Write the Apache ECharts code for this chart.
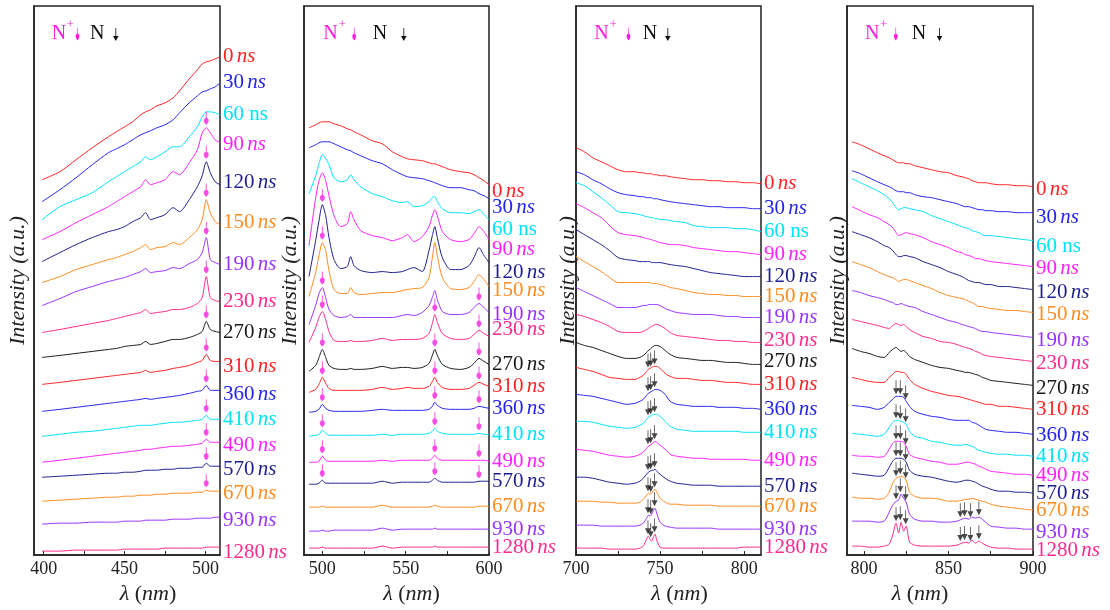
<!DOCTYPE html>
<html><head><meta charset="utf-8">
<script src="https://cdn.jsdelivr.net/npm/echarts@6/dist/echarts.min.js"></script>
<style>html,body{margin:0;padding:0;background:#fff}#c{width:1110px;height:610px}</style>
</head><body><div id="c"></div>
<script>
// ---------------- DATA ----------------
const delays = ['0','30','60','90','120','150','190','230','270','310','360','410','490','570','670','930','1280'];

// Panel 1 (390-510 nm)
const lam1 = [399,410,420,430,440,445,450,455,460,463,466,470,475,480,484,490,495,498,500.5,503,506,509];
const int1 = [
[376,384,396,408,419,424,429,434,441,444,446,450,453,458,465,477,486,492,494,495,497,499],
[354,366,378,391,403,407,411,416,421,423,425,428,431,436,443,453,460,464,465,467,469,473],
[336,349,356,363,374,379,384,389,394,399,396,399,404,409,409,419,429,439,444,444,443,441],
[316,324,333,341,349,354,359,364,369,376,371,373,376,384,381,393,406,423,428,423,416,413],
[294,303,311,318,324,326,329,334,338,343,336,338,341,348,344,356,369,380,394,383,374,371],
[273,279,286,291,296,298,301,304,308,311,306,308,309,313,311,318,326,336,356,343,334,331],
[250,257,264,269,274,276,278,281,284,287,283,284,285,288,287,292,296,303,318,296,293,291],
[223,226,229,232,235,237,239,241,243,246,242,243,244,246,246,248,252,258,279,258,255,254],
[198,200,202,204,206,207,209,210,211,214,211,212,214,216,216,218,221,224,234,226,224,223],
[171,173,175,177,179,180,181,182,183,185,183,184,185,187,188,190,193,195,201,195,194,194],
[144,146,148,150,152,153,154,155,156,157,156,157,158,159,160,162,164,165,170,165,165,165],
[119,121,123,124,126,127,128,129,130,130,130,131,132,133,133,134,135,136,140,136,136,136],
[93,95,97,99,101,102,103,104,105,106,106,107,108,109,109,110,111,112,116,113,113,113],
[78,79,80,81,82,82,83,83,84,85,85,85,86,86,87,87,88,88,92,89,89,89],
[54,55,56,57,58,58,59,59,60,60,60,61,61,62,62,62,63,63,65,64,64,64],
[31,32,32,33,33,33,34,34,34,35,35,35,35,36,36,36,37,37,37,37,38,38],
[4,4,5,5,5,5,6,6,6,6,6,6,7,7,7,7,7,7,8,8,8,8]
];

// Panel 2 (490-600 nm)
const lam2 = [492,496,498,500,502,504,507,511,515,517,519,523,530,536,542,548,551,555,560,564,566,567.5,569,572,577,583,588,591,594,597,600];
const int2 = [
[428,431,433,434,434,434,432,430,427,426,424,421,415,412,404,399,397,396,395,393,392,392,391,389,386,384,383,381,378,375,371],
[408,411,413,414,414,414,412,409,406,405,403,400,395,392,386,381,379,378,377,375,374,373,372,370,368,368,366,365,362,360,357],
[362,380,392,401,397,391,378,374,376,381,376,369,362,359,355,353,354,349,350,354,358,359,354,347,343,343,342,344,346,341,336],
[310,358,375,383,375,360,340,329,332,344,336,325,320,318,315,318,321,314,319,329,340,346,340,324,316,314,316,322,329,324,316],
[279,315,335,351,340,318,296,287,289,299,290,285,283,284,283,284,286,288,284,305,320,329,318,298,286,286,290,298,308,300,293],
[259,283,300,313,305,285,266,262,262,268,263,261,262,263,263,265,266,267,268,278,298,313,300,278,267,266,268,274,281,276,269],
[231,250,262,268,258,246,240,238,239,241,238,238,238,238,238,240,241,240,243,250,258,265,256,244,241,241,243,248,252,248,243],
[213,228,238,244,236,224,215,214,214,215,214,214,215,217,215,216,216,216,217,222,232,241,233,222,217,216,217,221,225,222,219],
[184,190,198,206,198,190,187,186,186,187,186,186,187,189,187,188,188,187,188,192,200,206,200,191,187,186,188,192,197,194,191],
[163,166,171,178,172,167,165,165,165,165,165,165,166,168,166,167,168,167,167,169,174,178,173,168,166,166,167,170,173,171,169],
[143,144,146,151,147,145,144,144,144,144,144,144,145,146,145,145,145,145,145,146,149,153,150,147,146,146,146,147,149,148,147],
[119,120,121,125,122,120,120,120,120,120,120,120,120,121,120,121,121,121,121,122,124,127,124,122,121,121,121,121,122,121,121],
[93,93,94,99,95,94,94,94,94,94,94,94,94,95,94,95,95,95,95,95,97,100,97,95,95,95,95,95,95,95,94],
[71,71,72,75,72,72,72,72,72,72,72,72,72,74,72,73,73,73,73,73,75,77,75,73,73,73,73,73,74,74,74],
[48,48,48,49,48,48,48,48,48,48,48,48,48,50,48,48,48,48,48,48,49,50,49,48,48,48,48,48,49,49,49],
[24,24,24,25,24,24,25,25,25,25,25,25,25,27,25,26,26,26,26,26,26,27,26,26,26,26,26,26,26,26,26],
[7,7,7,8,7,7,7,7,7,7,7,7,7,9,7,8,8,8,8,8,8,9,8,8,8,8,8,8,8,8,8]
];

// Panel 3 (700-810 nm)
const lam3 = [700,705,710,715,720,725,730,735,738,740,742,743,744,745,746,747,748,750,753,756,760,765,770,775,780,785,790,795,800,805,810];
const int3 = [
[408,404,398,394,390,386,384,384,383,383,382,382,382,382,381,381,381,380,380,379,378,377,376,376,375,375,374,374,373,373,372],
[384,381,376,372,367,363,361,360,359,359,358,358,358,358,357,357,357,356,355,354,353,352,351,350,349,349,348,348,348,347,347],
[373,370,364,358,351,344,343,342,341,340,339,339,338,338,338,337,337,336,336,335,334,333,330,329,328,328,328,327,327,326,324],
[352,348,343,338,330,323,321,320,319,318,317,317,316,316,315,315,314,313,312,311,311,310,308,307,306,305,304,304,303,302,301],
[326,321,316,311,305,298,296,295,294,294,294,294,294,293,293,293,293,293,292,291,290,289,287,285,283,282,281,280,279,279,279],
[299,294,289,284,278,273,273,273,273,273,273,273,273,272,272,272,272,271,270,268,267,265,263,262,261,261,260,260,259,259,259],
[268,264,260,256,252,248,248,248,249,250,250,251,251,251,251,251,251,250,247,245,243,242,241,241,241,240,239,239,238,238,238],
[241,239,236,233,229,224,223,223,223,224,226,227,228,229,230,231,231,230,227,223,220,219,218,217,216,215,215,214,214,213,213],
[213,210,208,205,202,199,197,197,198,200,203,205,206,208,209,210,210,209,205,201,198,197,196,195,195,194,193,193,192,191,191],
[188,186,184,181,178,177,176,176,178,180,184,186,187,188,189,189,189,187,182,179,177,177,176,175,175,174,173,173,172,171,171],
[161,160,159,157,155,153,151,152,154,156,160,162,163,164,165,166,166,165,161,154,151,150,149,149,149,148,148,148,147,147,146],
[134,134,133,131,129,128,127,128,130,132,136,138,139,140,141,141,141,139,134,129,126,125,124,124,124,124,124,124,123,123,123],
[106,105,104,102,100,99,98,99,101,103,107,109,110,111,113,114,113,110,106,101,99,98,97,97,96,96,96,96,96,95,95],
[78,78,77,75,73,72,71,72,74,77,81,83,84,85,85,86,84,81,77,74,72,71,70,70,70,69,69,69,69,69,69],
[54,54,54,53,53,52,52,52,53,56,60,62,61,62,65,66,63,57,53,51,51,50,50,50,50,49,49,49,49,49,49],
[30,30,30,29,29,29,29,29,30,32,37,40,39,41,45,47,42,33,29,28,27,27,27,27,27,26,26,26,26,26,26],
[7,7,7,7,6,6,6,6,7,9,16,19,16,14,18,21,15,8,7,7,7,7,7,7,7,7,7,7,8,8,8]
];

// Panel 4 (790-900 nm)
const lam4 = [793,798,803,808,812,815,817,819,820.5,822,823.5,825,827,830,835,840,845,850,855,858,860,862,864,866,868,870,872,875,880,885,890,895,900];
const int4 = [
[414,411,407,403,400,398,396,394,393,393,393,392,392,390,388,386,384,383,380,379,378,377,375,374,373,373,373,372,371,371,370,370,369],
[385,382,378,374,371,369,367,365,364,364,364,363,363,361,359,358,356,354,352,350,349,349,348,347,346,346,345,345,344,344,343,343,343],
[377,373,369,365,361,357,353,348,346,347,348,348,347,346,344,340,337,334,331,329,328,327,325,324,323,321,320,320,319,318,317,316,315],
[349,345,341,338,334,331,328,323,320,321,322,323,322,321,318,314,311,308,304,303,301,300,299,297,297,296,295,294,293,292,291,290,289],
[324,321,318,314,310,308,305,301,299,299,300,300,299,298,294,291,288,284,281,279,277,275,274,273,273,272,271,271,269,269,268,267,266],
[294,291,288,284,281,279,278,276,274,275,276,276,275,273,270,267,263,260,258,257,256,254,253,251,249,249,248,247,246,245,245,244,243],
[265,263,260,258,256,254,253,251,251,252,251,250,249,248,244,241,238,235,233,231,230,229,228,227,225,224,224,223,222,221,220,219,218],
[236,234,232,230,228,227,230,232,231,230,231,229,226,223,219,217,214,213,211,209,208,207,206,204,203,201,200,199,198,197,196,195,194],
[207,204,202,199,198,203,206,208,206,204,205,203,199,196,193,190,188,187,185,184,183,183,182,181,180,178,177,175,174,173,172,171,170],
[178,176,174,173,173,178,181,184,184,183,183,181,176,171,167,164,162,160,159,158,157,156,155,154,153,152,151,151,149,149,148,147,146],
[150,149,148,146,148,153,156,159,159,159,158,154,149,144,141,139,138,136,135,135,135,135,133,132,130,128,126,125,124,123,123,122,121],
[122,121,120,119,121,128,133,135,135,134,133,131,124,119,117,114,113,111,110,110,111,110,109,107,105,104,103,102,101,101,100,100,99],
[100,99,99,98,99,106,112,114,114,114,113,109,101,98,96,94,93,91,91,92,93,93,92,91,89,88,86,84,83,82,81,81,80],
[82,81,80,79,80,88,94,97,97,97,96,93,85,81,79,78,76,74,73,74,75,75,74,73,71,69,68,66,64,64,63,63,62],
[58,57,57,56,57,63,72,77,78,79,78,75,63,59,57,57,56,54,54,55,56,56,57,56,55,54,53,51,49,48,47,46,45],
[34,34,34,33,34,43,50,54,55,61,57,53,41,36,34,34,33,33,34,36,37,36,38,37,38,36,33,29,28,27,27,26,26],
[9,9,8,8,9,11,20,32,22,33,24,29,13,10,9,9,9,9,10,12,13,12,15,12,14,12,10,8,7,7,6,6,6]
];

// Line markers: [wavelength, first trace index, last trace index]
const ionMarks1 = [[500.5,3,14]];
const ionMarks2 = [[500,4,13],[567.5,7,13],[594,6,13]];
const neuMarks3 = [[742.8,9,16],[744.4,9,16],[746.7,9,16]];
const neuMarks4 = [[819,10,16],[821.5,10,16],[824.7,10,16],[857,15,16],[859.5,15,16],[863,15,16],[868,15,16]];

// Axis ranges and tick labels
const xRanges = [[394,509],[489,600],[700,810],[790,900]];
const xTickLabels = [[400,450,500],[500,550,600],[700,750,800],[800,850,900]];
const xMinorTicks = [[425,475],[525,575],[725,775],[825,875]];

// ---------------- STYLE / LAYOUT ----------------
const traceColors = ['#ff2222','#2424ee','#00e2fa','#ff22ff','#1e1e8e','#ff8c1e','#9a32ff','#ff2a8c','#1a1a1a',
                     '#ff2222','#2424ee','#00e2fa','#ff22ff','#1e1e8e','#ff8c1e','#9a32ff','#ff2a8c'];
const FONT = '"Liberation Serif","Times New Roman",serif';
const gridLefts = [34,304,576,847];
const gridWidths = [186,185,185,186];
const yNameGaps = [5,3,-3,-2];
const xNamePad = [[0,0,0,42],[0,0,0,30],[0,0,0,22],[0,40,0,0]];
const labelNudge = [
  [0,0,0,2,-2,-2,0,0,0,5,4,0,3,3,2,3,5],
  [7,9,10,10,10,4,2,-7,0,0,0,0,0,0,0,0,0],
  [0,0,0,0,0,0,0,-2,-3,0,0,0,0,0,0,0,0],
  [3,5,6,2,3,2,3,2,3,0,1,0,0,0,0,3,1]
];
const annot = [
  {n1:17.7, plus:32.5, ma:41, n2:56, ba:79},
  {n1:19.3, plus:34.5, ma:47.7, n2:68.7, ba:97},
  {n1:18.3, plus:33.5, ma:50, n2:66.7, ba:89},
  {n1:18, plus:33, ma:46.3, n2:64.7, ba:89.7}
];
const ION_PATH = 'M2.2 0 H2.8 V6 C4.6 7 4.6 10.5 2.5 13 C0.4 10.5 0.4 7 2.2 6 Z';
const NEU_PATH = 'M2.6 0 H3.4 V8 H6 L3 14 L0 8 H2.6 Z';
const ION_POLY = [[2.2,0],[2.8,0],[2.8,6],[3.8,6.8],[4.4,8.5],[4.2,10.3],[3.4,11.8],[2.5,13],[1.6,11.8],[0.8,10.3],[0.6,8.5],[1.2,6.8],[2.2,6]];
const NEU_POLY = [[2.4,0],[3.2,0],[3.2,8],[5.6,8],[2.8,13],[0,8],[2.4,8]];
const ION_COLOR = '#ff1ee0';

const panels = [
  {lam:lam1, ints:int1, ion:ionMarks1, neu:[]},
  {lam:lam2, ints:int2, ion:ionMarks2, neu:[]},
  {lam:lam3, ints:int3, ion:[], neu:neuMarks3},
  {lam:lam4, ints:int4, ion:[], neu:neuMarks4}
];

function nearestIdx(lam, x){let b=0;for(let i=1;i<lam.length;i++){if(Math.abs(lam[i]-x)<Math.abs(lam[b]-x))b=i;}return b;}
function markData(lam, ints, marks, gap){
  const out=[];
  marks.forEach(([x,a,b])=>{const k=nearestIdx(lam,x);for(let t=a;t<=b;t++)out.push([x, ints[t][k]+gap]);});
  return out;
}
function shiftPoly(poly, x, y){return poly.map(([a,b])=>[a+x,b+y]);}

const grids=[], xAxes=[], yAxes=[], series=[], graphics=[];
panels.forEach((p,pi)=>{
  grids.push({left:gridLefts[pi], top:6, width:gridWidths[pi], height:550, show:true, borderColor:'#222', borderWidth:1.5, backgroundColor:'transparent'});
  xAxes.push({
    gridIndex:pi, type:'value', min:xRanges[pi][0], max:xRanges[pi][1],
    axisLine:{show:true, onZero:false, lineStyle:{color:'#222', width:1.5}},
    axisTick:{show:true, inside:true, length:4, customValues:xTickLabels[pi].concat(xMinorTicks[pi]), lineStyle:{color:'#222', width:1}},
    axisLabel:{customValues:xTickLabels[pi], margin:5, color:'#222', fontFamily:FONT, fontSize:18},
    splitLine:{show:false},
    name:'{i|λ} ({i|nm})', nameLocation:'middle', nameGap:24,
    nameTextStyle:{color:'#222', fontFamily:FONT, fontSize:22, padding:xNamePad[pi],
      rich:{i:{fontStyle:'italic', fontFamily:FONT, fontSize:22, color:'#222'}}}
  });
  yAxes.push({
    gridIndex:pi, type:'value', min:0, max:550,
    axisLine:{show:true, lineStyle:{color:'#222', width:1.5}},
    axisTick:{show:false}, axisLabel:{show:false}, splitLine:{show:false},
    name:'Intensity (a.u.)', nameLocation:'middle', nameGap:yNameGaps[pi],
    nameTextStyle:{color:'#222', fontFamily:FONT, fontSize:22, fontStyle:'italic'}
  });
  p.ints.forEach((vals,ti)=>{
    const col = traceColors[ti];
    const d = delays[ti];
    series.push({
      type:'line', name:d+' ns #'+pi, xAxisIndex:pi, yAxisIndex:pi,
      data:p.lam.map((x,i)=>[x, vals[i]]),
      showSymbol:false, smooth:0.25,
      lineStyle:{color:col, width:1}, itemStyle:{color:col},
      silent:true,
      endLabel:{show:true, distance:3, offset:[0, labelNudge[pi][ti]], color:col,
        formatter: ()=> d==='60' ? `{n|${d} ns}` : `{n|${d}} {u|ns}`,
        rich:{n:{fontFamily:FONT, fontSize:21, color:col}, u:{fontFamily:FONT, fontSize:21, fontStyle:'italic', color:col}}}
    });
  });
  if(p.ion.length){
    series.push({type:'scatter', xAxisIndex:pi, yAxisIndex:pi, z:5, silent:true,
      symbol:'path://'+ION_PATH, symbolSize:[5,13], symbolOffset:[0,'-50%'],
      itemStyle:{color:ION_COLOR}, data:markData(p.lam,p.ints,p.ion,3)});
  }
  if(p.neu.length){
    series.push({type:'scatter', xAxisIndex:pi, yAxisIndex:pi, z:5, silent:true,
      symbol:'path://'+NEU_PATH, symbolSize:[6,14], symbolOffset:[0,'-50%'],
      itemStyle:{color:'#1a1a1a'}, data:markData(p.lam,p.ints,p.neu,2)});
  }
  const x0 = gridLefts[pi], a = annot[pi];
  graphics.push(
    {type:'text', x:x0+a.n1, y:34, style:{text:'N', fill:ION_COLOR, font:'20px '+FONT, verticalAlign:'middle'}},
    {type:'text', x:x0+a.plus, y:25, style:{text:'+', fill:ION_COLOR, font:'13px '+FONT, verticalAlign:'middle'}},
    {type:'polygon', shape:{points:shiftPoly(ION_POLY, x0+a.ma, 27.5)}, style:{fill:ION_COLOR}},
    {type:'text', x:x0+a.n2, y:34, style:{text:'N', fill:'#111', font:'20px '+FONT, verticalAlign:'middle'}},
    {type:'polygon', shape:{points:shiftPoly(NEU_POLY, x0+a.ba, 28)}, style:{fill:'#111'}}
  );
});

const chart = echarts.init(document.getElementById('c'), null, {renderer:'canvas'});
chart.setOption({
  animation:false, backgroundColor:'#fff',
  grid:grids, xAxis:xAxes, yAxis:yAxes, series:series, graphic:graphics
});
</script></body></html>
